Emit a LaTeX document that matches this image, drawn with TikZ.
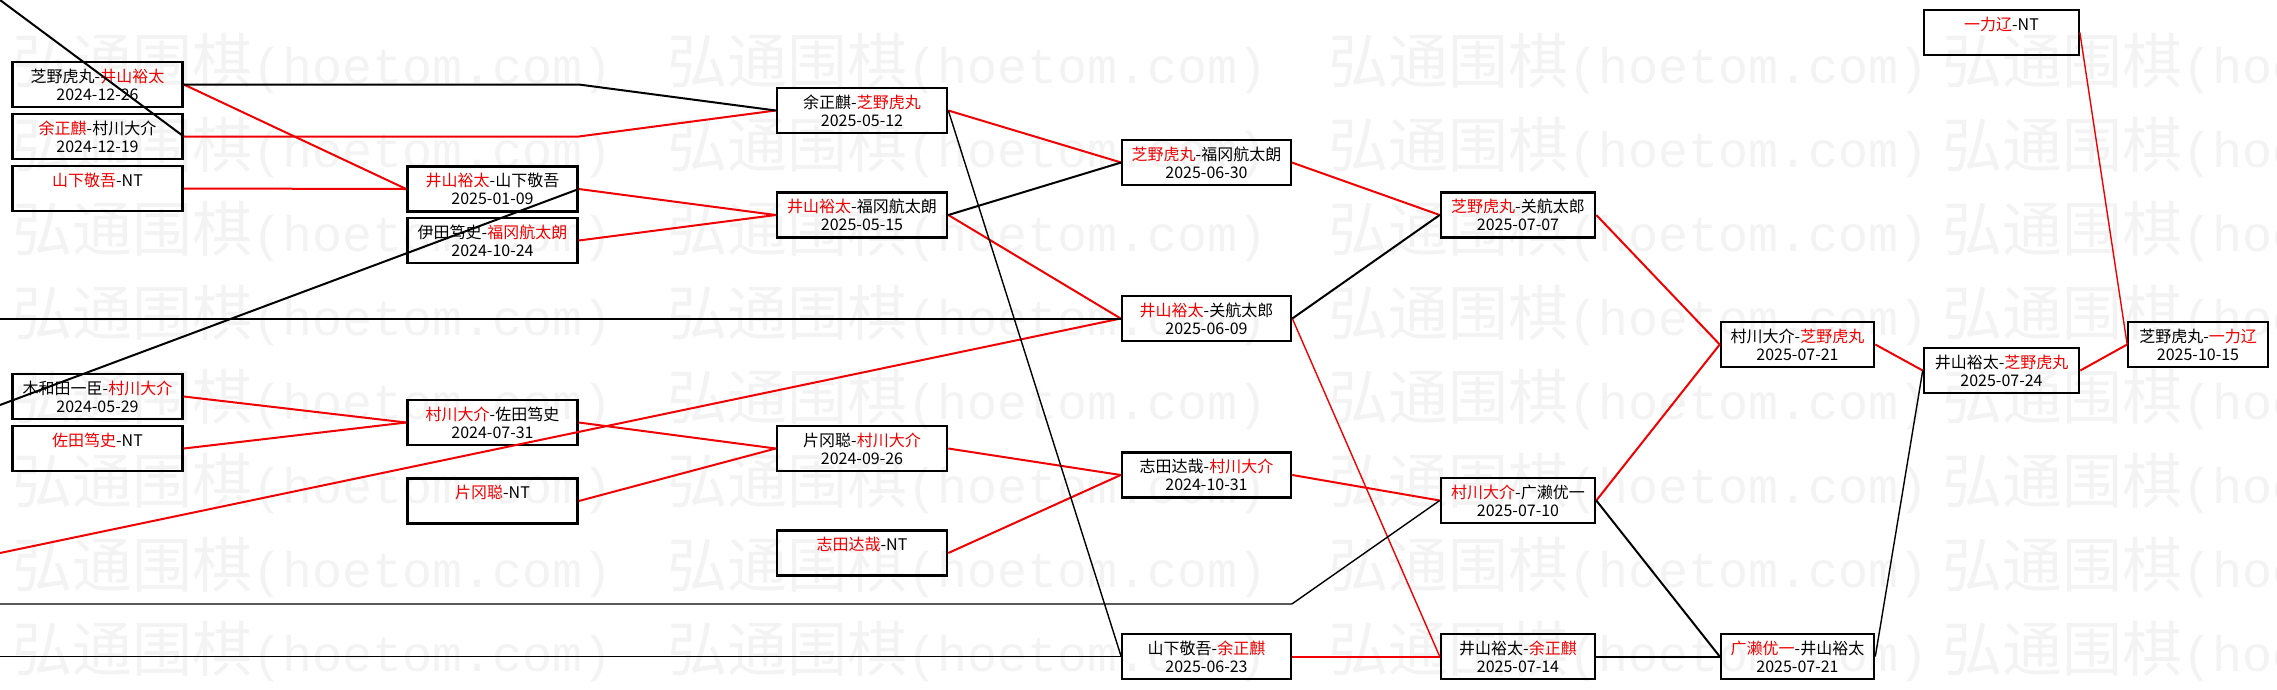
\documentclass[tikz,border=0pt]{standalone}
\usepackage{fontspec}
\setmainfont{Noto Sans CJK SC}
\newfontfamily\markmono{Liberation Mono}
\definecolor{gbRed}{HTML}{F00000}
\definecolor{gbMark}{HTML}{F3F3F3}
\newcommand{\won}[1]{\textcolor{gbRed}{#1}}
\tikzset{
  gb match/.style={draw=black, line width=2.6pt, minimum width=#1, minimum height=45pt,
    inner sep=0pt, align=center, font=\fontsize{16}{18}\selectfont},
  gb match/.default=170pt,
  gb thin/.style={line width=1.7pt},
  gb win/.style={draw=gbRed, line width=2pt},
  gb loss/.style={draw=black, line width=2pt},
  gb fine/.style={line width=1.4pt},
  gb mark/.style={font=\fontsize{60}{60}\selectfont, text=gbMark, anchor=west, inner sep=0pt},
}

\begin{document}
\begin{tikzpicture}[x=1pt, y=-1pt]
  \useasboundingbox (0,0) rectangle (2277,689);
  \clip (0,0) rectangle (2277,689);

  % faint site watermark behind the bracket
  \foreach \y in {63,147,...,651}
    \foreach \x in {12,667,1328,1942}
      \node[gb mark] (wm\x-\y) at (\x,\y) {弘通围棋{\markmono\fontsize{50}{50}\selectfont(hoetom.com)}};

  % column A
  \node[gb match] (a1) at (97.5,84.5) {芝野虎丸-\won{井山裕太}\\2024-12-26};
  \node[gb match] (a2) at (97.5,136.5) {\won{余正麒}-村川大介\\2024-12-19};
  \node[gb match] (a3) at (97.5,188.5) {\won{山下敬吾}-NT\\\mbox{}};
  \node[gb match] (a4) at (97.5,396.5) {木和田一臣-\won{村川大介}\\2024-05-29};
  \node[gb match] (a5) at (97.5,448.5) {\won{佐田笃史}-NT\\\mbox{}};

  % column B
  \node[gb match] (b1) at (492.5,189) {\won{井山裕太}-山下敬吾\\2025-01-09};
  \node[gb match] (b2) at (492.5,240.5) {伊田笃史-\won{福冈航太朗}\\2024-10-24};
  \node[gb match] (b3) at (492.5,422.5) {\won{村川大介}-佐田笃史\\2024-07-31};
  \node[gb match] (b4) at (492.5,501) {\won{片冈聪}-NT\\\mbox{}};

  % column C
  \node[gb match] (c1) at (862,110.5) {余正麒-\won{芝野虎丸}\\2025-05-12};
  \node[gb match] (c2) at (862,215) {\won{井山裕太}-福冈航太朗\\2025-05-15};
  \node[gb match] (c3) at (862,448.5) {片冈聪-\won{村川大介}\\2024-09-26};
  \node[gb match] (c4) at (862,553) {\won{志田达哉}-NT\\\mbox{}};

  % column D
  \node[gb match=169pt, gb thin] (d1) at (1206.5,162.5) {\won{芝野虎丸}-福冈航太朗\\2025-06-30};
  \node[gb match=169pt] (d2) at (1206.5,318.5) {\won{井山裕太}-关航太郎\\2025-06-09};
  \node[gb match=169pt] (d3) at (1206.5,475) {志田达哉-\won{村川大介}\\2024-10-31};
  \node[gb match=169pt, gb thin] (d4) at (1206.5,656.5) {山下敬吾-\won{余正麒}\\2025-06-23};

  % column E
  \node[gb match=154pt] (e1) at (1518,215) {\won{芝野虎丸}-关航太郎\\2025-07-07};
  \node[gb match=154pt] (e2) at (1518,500.5) {\won{村川大介}-广濑优一\\2025-07-10};
  \node[gb match=154pt] (e3) at (1518,656.5) {井山裕太-\won{余正麒}\\2025-07-14};

  % column F
  \node[gb match=153pt] (f1) at (1797.5,344.5) {村川大介-\won{芝野虎丸}\\2025-07-21};
  \node[gb match=153pt] (f2) at (1797.5,656.5) {\won{广濑优一}-井山裕太\\2025-07-21};

  % column G and the final
  \node[gb match=155pt, gb thin] (g1) at (2001.5,32.5) {\won{一力辽}-NT\\\mbox{}};
  \node[gb match=155pt] (g2) at (2001.5,370.5) {井山裕太-\won{芝野虎丸}\\2025-07-24};
  \node[gb match=140pt, gb thin] (h1) at (2198,344.5) {芝野虎丸-\won{一力辽}\\2025-10-15};

  % paths that come in from outside the view
  \coordinate (inA) at (0,0);
  \coordinate (inB) at (0,405);
  \coordinate (inC) at (0,318.5);
  \coordinate (inD) at (0,553);
  \coordinate (inE) at (0,604);
  \coordinate (inF) at (0,656.5);

  % red: the winner goes on
  \foreach \s/\t in {a1/b1, a3/b1, a4/b3, a5/b3, b1/c2, b2/c2, b3/c3, b4/c3,
                     c1/d1, c2/d2, c3/d3, c4/d3, d1/e1, d3/e2, d4/e3,
                     e1/f1, e2/f1, f1/g2, g2/h1}
    \draw[gb win] (\s.east) -- (\t.west);
  \draw[gb win] (a2.east) -- (a2.east -| b1.east) -- (c1.west);
  \draw[gb win, gb fine] (d2.east) -- (e3.west);
  \draw[gb win, gb fine] (g1.east) -- (h1.west);
  \draw[gb win] (inD) -- (d2.west);

  % black: the loser goes on
  \foreach \s/\t in {c2/d1, d2/e1, e2/f2, e3/f2}
    \draw[gb loss] (\s.east) -- (\t.west);
  \draw[gb loss] (a1.east) -- (a1.east -| b1.east) -- (c1.west);
  \draw[gb loss, gb fine] (c1.east) -- (d4.west);
  \draw[gb loss, gb fine] (f2.east) -- (g2.west);
  \draw[gb loss] (inA) -- (a2.east);
  \draw[gb loss] (inB) -- (b1.east);
  \draw[gb loss] (inC) -- (d2.west);
  \draw[gb loss, gb fine] (inE) -- (inE -| d1.east) -- (e2.west);
  \draw[gb loss, gb fine] (inF) -- (d4.west);
\end{tikzpicture}
\end{document}
